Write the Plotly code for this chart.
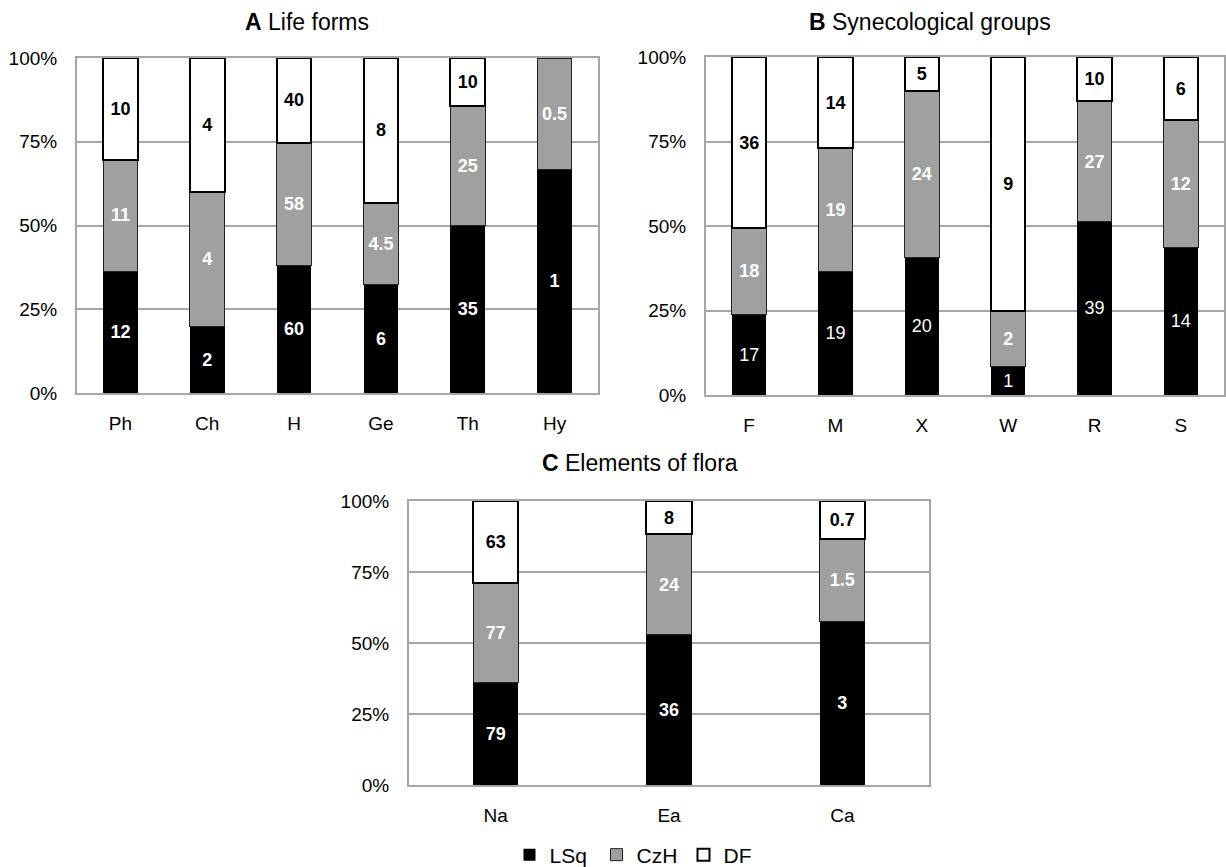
import plotly.graph_objects as go

# ---- data ----
A_cats = ['Ph', 'Ch', 'H', 'Ge', 'Th', 'Hy']
A_LSq = [12, 2, 60, 6, 35, 1]
A_CzH = [11, 4, 58, 4.5, 25, 0.5]
A_DF = [10, 4, 40, 8, 10, None]

B_cats = ['F', 'M', 'X', 'W', 'R', 'S']
B_LSq = [17, 19, 20, 1, 39, 14]
B_CzH = [18, 19, 24, 2, 27, 12]
B_DF = [36, 14, 5, 9, 10, 6]

C_cats = ['Na', 'Ea', 'Ca']
C_LSq = [79, 36, 3]
C_CzH = [77, 24, 1.5]
C_DF = [63, 8, 0.7]

series_names = ['LSq', 'CzH', 'DF']
y_ticks = [0, 25, 50, 75, 100]
y_ticktext = ['0%', '25%', '50%', '75%', '100%']

FONT = 'Liberation Sans, Arial, sans-serif'
W, H = 1226, 867

colors = {'LSq': '#000000', 'CzH': '#A0A0A0', 'DF': '#FFFFFF'}
lines = {'LSq': dict(color='#000000', width=0),
         'CzH': dict(color='#222222', width=1),
         'DF': dict(color='#000000', width=2)}
txtcol = {'LSq': 'white', 'CzH': 'white', 'DF': 'black'}


def labels(vals, bold=True):
    out = []
    for v in vals:
        if v is None:
            out.append('')
        else:
            s = f"{v:g}"
            out.append(f"<b>{s}</b>" if bold else s)
    return out


fig = go.Figure()

panels = [
    ('x', 'y', A_cats, [A_LSq, A_CzH, A_DF], 0.40, [True, True, True]),
    ('x2', 'y2', B_cats, [B_LSq, B_CzH, B_DF], 0.40, [False, True, True]),
    ('x3', 'y3', C_cats, [C_LSq, C_CzH, C_DF], 0.26, [True, True, True]),
]

for pi, (xa, ya, cats, sers, bw, bolds) in enumerate(panels):
    for name, vals, bold in zip(series_names, sers, bolds):
        fig.add_trace(go.Bar(
            x=cats, y=vals, name=name, xaxis=xa, yaxis=ya,
            width=bw,
            marker=dict(color=colors[name], line=lines[name]),
            text=labels(vals, bold), textposition='inside',
            insidetextanchor='middle', textangle=0,
            constraintext='none',
            textfont=dict(family=FONT, size=18, color=txtcol[name]),
            showlegend=(pi == 0), legendgroup=name,
        ))

grid = '#A6A6A6'
axis_common = dict(showline=True, linecolor=grid, linewidth=2, mirror=True,
                   tickfont=dict(family=FONT, size=19, color='black'))
xcommon = dict(axis_common, showgrid=False, ticks='outside', ticklen=12,
               tickcolor='rgba(0,0,0,0)')
ycommon = dict(axis_common, range=[0, 100], tickmode='array',
               tickvals=y_ticks, ticktext=y_ticktext,
               showgrid=True, gridcolor=grid, gridwidth=2, zeroline=False,
               ticks='outside', ticklen=14, tickcolor='rgba(0,0,0,0)')


def px(v):
    return v / W


def py(v):
    return 1 - v / H


fig.update_layout(
    width=W, height=H,
    margin=dict(l=0, r=0, t=0, b=0, autoexpand=False),
    paper_bgcolor='white', plot_bgcolor='white',
    barmode='stack', barnorm='percent',
    font=dict(family=FONT, size=19, color='black'),
    xaxis=dict(xcommon, domain=[px(77), px(598)], anchor='y'),
    yaxis=dict(ycommon, domain=[py(393), py(58)], anchor='x'),
    xaxis2=dict(xcommon, domain=[px(706), px(1224)], anchor='y2'),
    yaxis2=dict(ycommon, domain=[py(395), py(57)], anchor='x2'),
    xaxis3=dict(xcommon, domain=[px(409), px(929)], anchor='y3'),
    yaxis3=dict(ycommon, domain=[py(785), py(501)], anchor='x3'),
    legend=dict(orientation='h', x=px(640), xanchor='center',
                y=py(855), yanchor='middle',
                font=dict(family=FONT, size=21, color='black'),
                traceorder='normal', itemwidth=30,
                entrywidth=42, entrywidthmode='pixels'),
    annotations=[
        dict(text='<b>A</b> Life forms', x=px(307), y=py(22), xref='paper', yref='paper',
             showarrow=False, xanchor='center', yanchor='middle',
             font=dict(family=FONT, size=23, color='black')),
        dict(text='<b>B</b> Synecological groups', x=px(930), y=py(22), xref='paper', yref='paper',
             showarrow=False, xanchor='center', yanchor='middle',
             font=dict(family=FONT, size=23, color='black')),
        dict(text='<b>C</b> Elements of flora', x=px(640), y=py(463), xref='paper', yref='paper',
             showarrow=False, xanchor='center', yanchor='middle',
             font=dict(family=FONT, size=23, color='black')),
    ],
)

fig.write_html('out.html', config={'displayModeBar': False},
               post_script="document.body.style.margin='0';document.body.style.overflow='hidden';")
